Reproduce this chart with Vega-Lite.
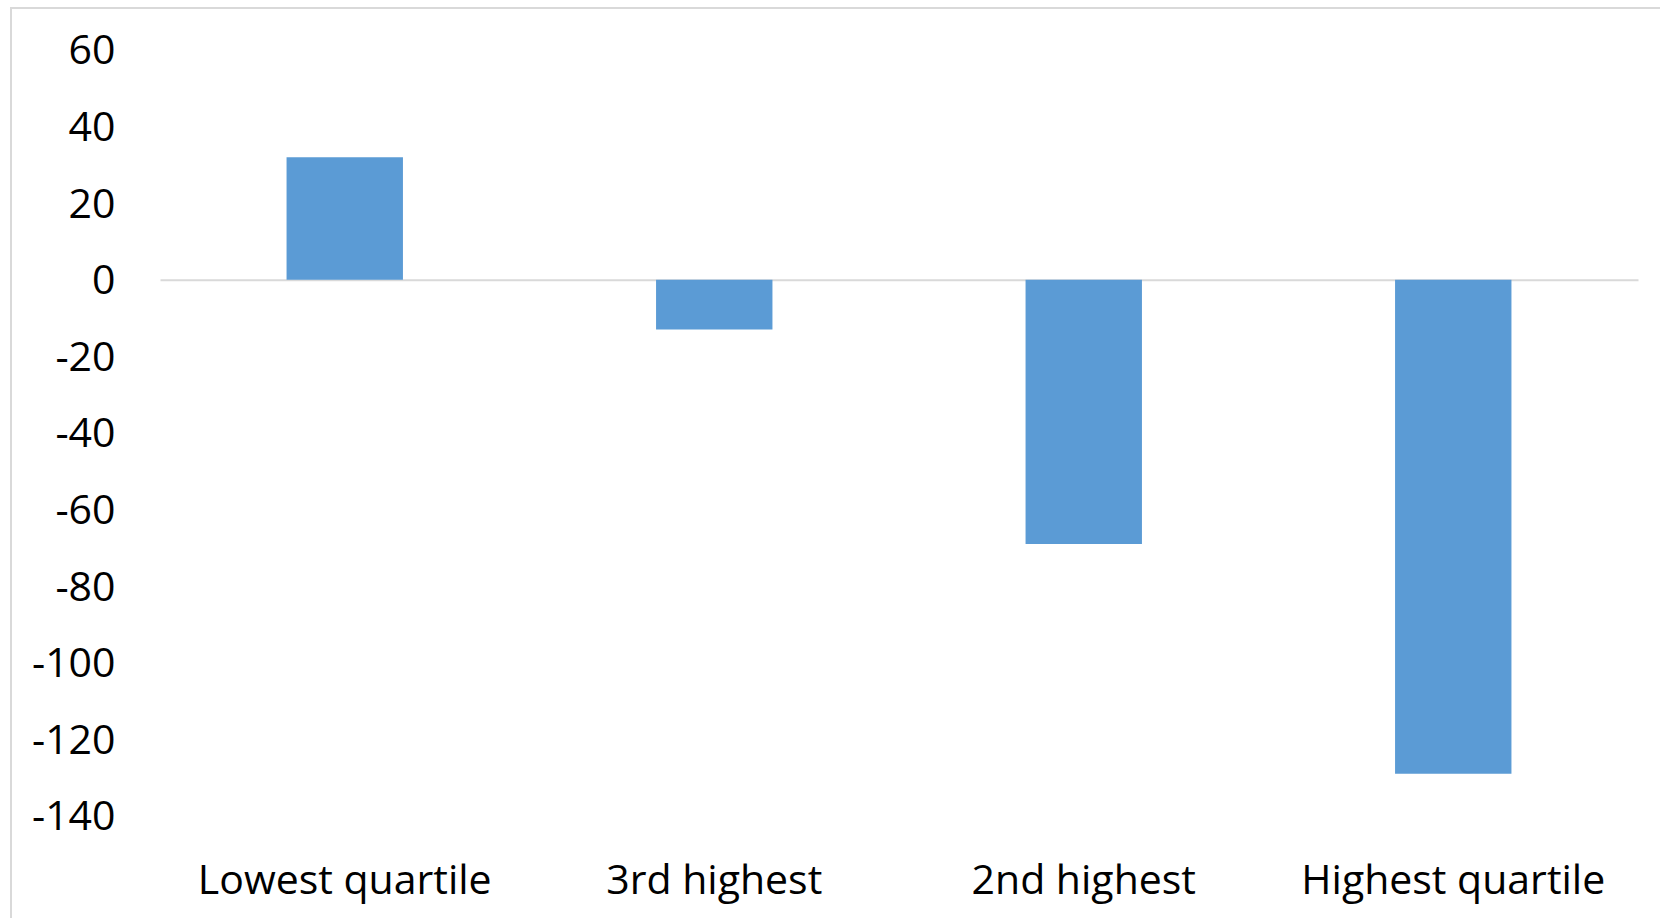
{
  "$schema": "https://vega.github.io/schema/vega-lite/v6.json",
  "width": 1660,
  "height": 915,
  "autosize": "none",
  "padding": {"left": 11, "top": 8, "right": 0, "bottom": 0},
  "background": "white",
  "config": {"view": {"stroke": "#d9d9d9", "strokeWidth": 2}, "font": "Open Sans"},
  "data": {"values": [
    {"category": "Lowest quartile", "value": 32},
    {"category": "3rd highest", "value": -13},
    {"category": "2nd highest", "value": -69},
    {"category": "Highest quartile", "value": -129}
  ]},
  "layer": [
    {
      "mark": {"type": "bar", "color": "#5b9bd5"},
      "encoding": {
        "x": {"field": "category", "type": "nominal", "sort": null,
          "scale": {"range": [149, 1627], "paddingInner": 0.685, "paddingOuter": 0.3425},
          "axis": {"orient": "bottom", "title": null, "domain": false, "ticks": false, "labelAngle": 0,
            "labelFontSize": 41, "labelColor": "#000000", "labelPadding": 0, "labelBaseline": "alphabetic",
            "offset": -30, "labelFont": "Open Sans", "labelLimit": 0}},
        "y": {"field": "value", "type": "quantitative",
          "scale": {"domain": [-140, 60], "range": [807.9, 41.9], "nice": false, "zero": false},
          "axis": {"title": null, "values": [-140, -120, -100, -80, -60, -40, -20, 0, 20, 40, 60],
            "labelExpr": "'' + datum.value",
            "domain": false, "ticks": false, "grid": false, "labelFontSize": 41, "labelColor": "#000000",
            "labelPadding": 0, "offset": -104, "labelOffset": 2, "labelFont": "Open Sans"}}
      }
    },
    {
      "mark": {"type": "bar", "opacity": 0},
      "encoding": {
        "x": {"field": "category", "type": "nominal", "sort": null,
          "axis": {"orient": "top", "title": null, "labels": false, "ticks": false, "domain": true,
            "domainColor": "#d9d9d9", "domainWidth": 2, "offset": -271.7}},
        "y": {"field": "value", "type": "quantitative"}
      }
    }
  ]
}
